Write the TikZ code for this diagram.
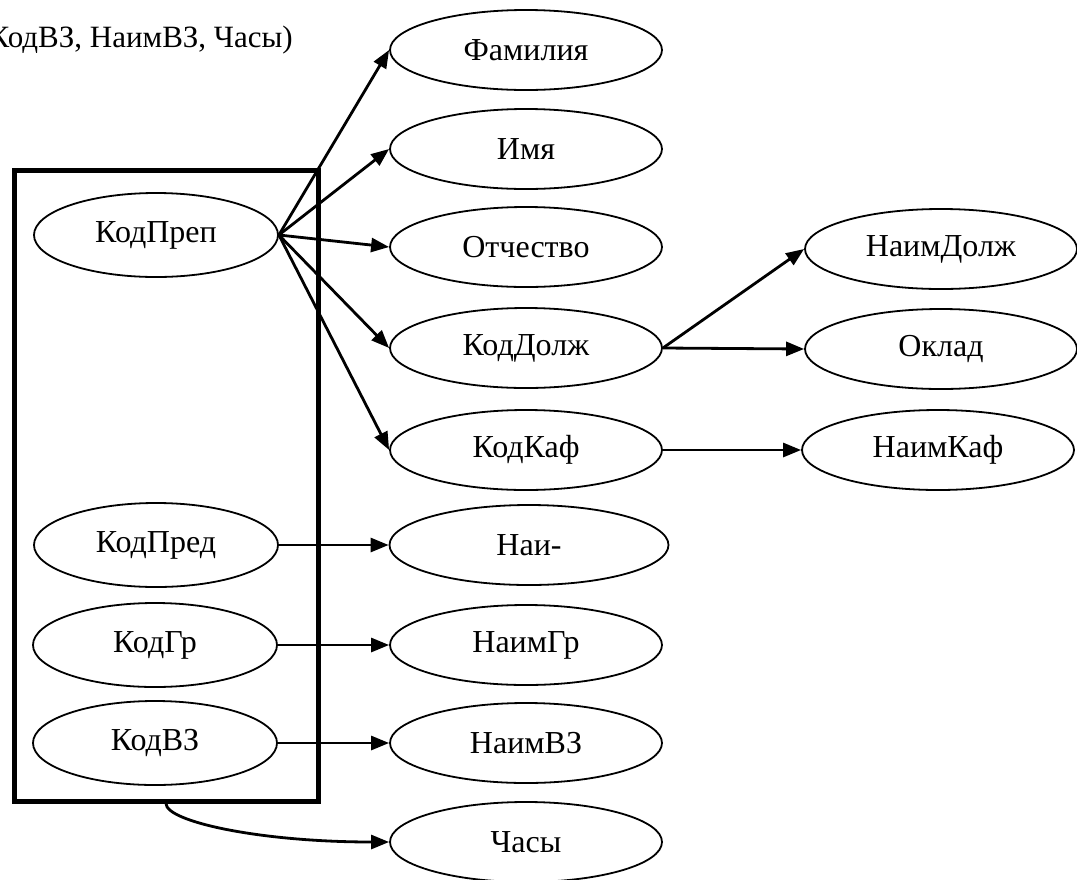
\documentclass[tikz,border=0pt]{standalone}
\usepackage{fontspec}
\setmainfont{Liberation Serif}
\usetikzlibrary{shapes.geometric,arrows.meta}
\begin{document}
\begin{tikzpicture}[x=1pt,y=-1pt,
  attr/.style={ellipse,draw,line width=1.8pt,inner sep=0pt,
    minimum width=272pt,minimum height=80pt,font=\fontsize{32}{38}\selectfont},
  keyattr/.style={attr,minimum width=244pt,minimum height=84pt},
  link/.style={line width=2.8pt,-{Triangle[length=18pt,width=14pt]}},
  frame/.style={draw,line width=5pt,inner sep=0pt}]
\clip (0,0) rectangle (1077,879);

% tail of the relation schema line
\node[anchor=base east,inner sep=0pt,font=\fontsize{31}{37}\selectfont] (hdr) at (293,47) {КодВЗ, НаимВЗ, Часы)};

% key attributes
\node[keyattr] (kprep) at (156,235) {КодПреп};
\node[keyattr] (kpred) at (156,545) {КодПред};
\node[keyattr] (kgr)   at (155,645) {КодГр};
\node[keyattr] (kvz)   at (155,743) {КодВЗ};

% composite key frame
\node[frame,minimum width=304pt,minimum height=631pt] (box) at (166,485.5) {};

% dependent attributes
\node[attr] (fam)    at (526,50)  {Фамилия};
\node[attr] (imya)   at (526,149) {Имя};
\node[attr] (otch)   at (526,247) {Отчество};
\node[attr] (kdolzh) at (526,348) {КодДолж};
\node[attr] (kkaf)   at (526,450) {КодКаф};
\node[attr,minimum width=279pt] (nai) at (529,545) {Наи-};
\node[attr] (naimgr) at (526,645) {НаимГр};
\node[attr] (naimvz) at (526,743) {НаимВЗ};
\node[attr] (chasy)  at (526,842) {Часы};

\node[attr] (naimdolzh) at (941,249) {НаимДолж};
\node[attr] (oklad)     at (941,349) {Оклад};
\node[attr] (naimkaf)   at (938,450) {НаимКаф};

% functional dependencies
\foreach \t in {fam,imya,otch,kdolzh,kkaf}
  \draw[link] (kprep.east) -- (\t.west);
\draw[link] (kpred.east) -- (nai.west);
\draw[link] (kgr.east) -- (naimgr.west);
\draw[link] (kvz.east) -- (naimvz.west);
\draw[link] (kdolzh.east) -- (naimdolzh.west);
\draw[link] (kdolzh.east) -- (oklad.west);
\draw[link] (kkaf.east) -- (naimkaf.west);
\draw[link] (box.south) .. controls +(0,18) and +(-130,0) .. (chasy.west);
\end{tikzpicture}
\end{document}
